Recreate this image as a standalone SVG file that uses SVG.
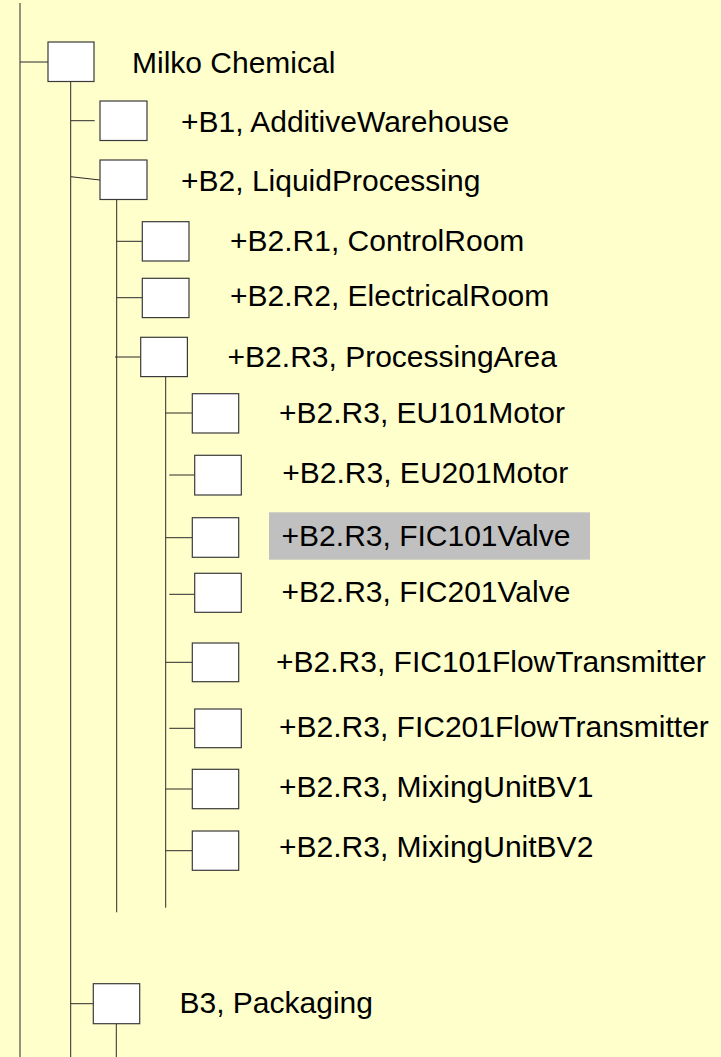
<svg xmlns="http://www.w3.org/2000/svg" width="721" height="1057" viewBox="0 0 721 1057">
<style>
.bg{fill:#FFFFCC}
.box{fill:#FFFFFF;stroke:#3a3a3a;stroke-width:1.2}
.ln{stroke:#2a2a2a;stroke-width:1;fill:none}
.t{font-family:"Liberation Sans",Arial,sans-serif;font-size:30px;fill:#000}
.hl{fill:#C0C0C0}
</style>
<rect class="bg" x="0" y="0" width="721" height="1057"/>
<rect class="hl" x="269" y="512.3" width="321" height="47.4"/>
<g id="connectors">
<line class="ln" x1="20" y1="3" x2="20" y2="1057"/>
<line class="ln" x1="70.7" y1="81.7" x2="70.7" y2="1057"/>
<line class="ln" x1="116.7" y1="199.3" x2="116.7" y2="912.3"/>
<line class="ln" x1="165.7" y1="376.7" x2="165.7" y2="907.7"/>
<line class="ln" x1="116.3" y1="1023.7" x2="116.3" y2="1057"/>
<line class="ln" x1="20" y1="62" x2="48" y2="62"/>
<line class="ln" x1="70.7" y1="120.7" x2="94.7" y2="120.7"/>
<line class="ln" x1="70.7" y1="176.7" x2="100" y2="180"/>
<line class="ln" x1="116.7" y1="241.3" x2="142.3" y2="241.3"/>
<line class="ln" x1="116.7" y1="297.7" x2="142.3" y2="297.7"/>
<line class="ln" x1="115" y1="357" x2="140.7" y2="357"/>
<line class="ln" x1="165.7" y1="413" x2="192.3" y2="413"/>
<line class="ln" x1="169.3" y1="475" x2="194.7" y2="475"/>
<line class="ln" x1="165.7" y1="537.7" x2="192.3" y2="537.7"/>
<line class="ln" x1="169.3" y1="594.3" x2="194.7" y2="594.3"/>
<line class="ln" x1="165.7" y1="662.3" x2="192.3" y2="662.3"/>
<line class="ln" x1="169.3" y1="728.3" x2="194.7" y2="728.3"/>
<line class="ln" x1="165.7" y1="789" x2="192.3" y2="789"/>
<line class="ln" x1="165.7" y1="850.7" x2="192.3" y2="850.7"/>
<line class="ln" x1="70.7" y1="1003.7" x2="93.3" y2="1003.7"/>
</g>
<g id="n-milko"><rect class="box" x="48" y="42" width="46" height="39.5"/><text class="t" x="132" y="73">Milko Chemical</text></g>
<g id="n-b1"><rect class="box" x="100" y="101" width="47" height="39.5"/><text class="t" x="181" y="131.5">+B1, AdditiveWarehouse</text></g>
<g id="n-b2"><rect class="box" x="100" y="160" width="47" height="39.5"/><text class="t" x="181" y="190.5">+B2, LiquidProcessing</text></g>
<g id="n-r1"><rect class="box" x="142.3" y="221.7" width="46.7" height="39.3"/><text class="t" x="230" y="251">+B2.R1, ControlRoom</text></g>
<g id="n-r2"><rect class="box" x="142.3" y="278.3" width="46.7" height="39.3"/><text class="t" x="230" y="306">+B2.R2, ElectricalRoom</text></g>
<g id="n-r3"><rect class="box" x="140.7" y="337.3" width="46.7" height="39.3"/><text class="t" x="227.6" y="367">+B2.R3, ProcessingArea</text></g>
<g id="n-eu101"><rect class="box" x="192.3" y="393.7" width="46.4" height="39.3"/><text class="t" x="279" y="422.5">+B2.R3, EU101Motor</text></g>
<g id="n-eu201"><rect class="box" x="194.7" y="455.3" width="46.6" height="39.7"/><text class="t" x="282.3" y="483">+B2.R3, EU201Motor</text></g>
<g id="n-fic101v"><rect class="box" x="192.3" y="517.7" width="46.4" height="39.6"/><text class="t" x="281.6" y="546">+B2.R3, FIC101Valve</text></g>
<g id="n-fic201v"><rect class="box" x="194.7" y="573.3" width="46.6" height="39"/><text class="t" x="281.6" y="602">+B2.R3, FIC201Valve</text></g>
<g id="n-fic101ft"><rect class="box" x="192.3" y="643" width="46.4" height="38.7"/><text class="t" x="276" y="671.5">+B2.R3, FIC101FlowTransmitter</text></g>
<g id="n-fic201ft"><rect class="box" x="194.7" y="709" width="46.6" height="38.7"/><text class="t" x="279" y="737">+B2.R3, FIC201FlowTransmitter</text></g>
<g id="n-bv1"><rect class="box" x="192.3" y="769.3" width="46.4" height="39.4"/><text class="t" x="279" y="796.5">+B2.R3, MixingUnitBV1</text></g>
<g id="n-bv2"><rect class="box" x="192.3" y="831" width="46.4" height="39.3"/><text class="t" x="279" y="857">+B2.R3, MixingUnitBV2</text></g>
<g id="n-b3"><rect class="box" x="93.3" y="983.7" width="46.4" height="40"/><text class="t" x="179.5" y="1012.5">B3, Packaging</text></g>
</svg>
